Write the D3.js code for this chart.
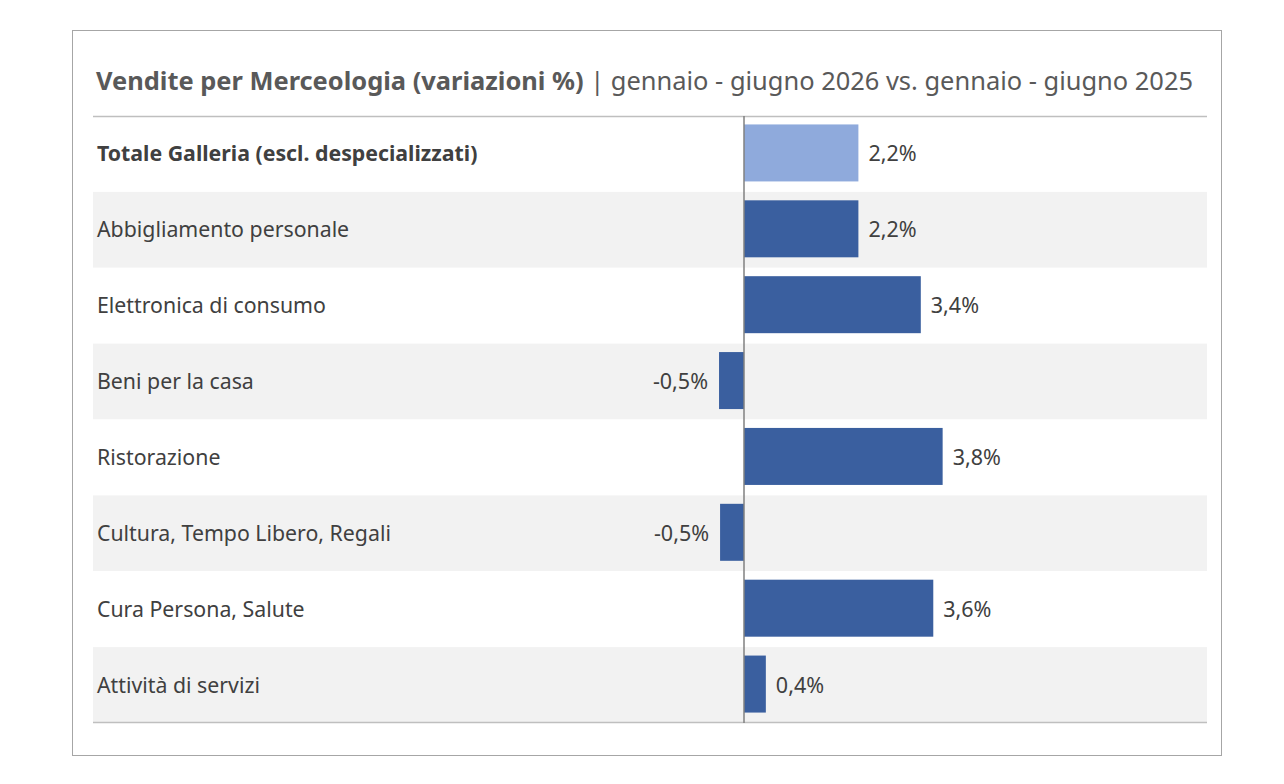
<!DOCTYPE html>
<html><head><meta charset="utf-8">
<script src="https://cdn.jsdelivr.net/npm/d3@7"></script>
<style>body{margin:0;background:#fff;}svg{display:block;font-family:"Noto Sans","Open Sans",sans-serif;}</style>
</head><body>
<svg id="c" width="1284" height="784"></svg>
<script>
const categories = ["Totale Galleria (escl. despecializzati)","Abbigliamento personale","Elettronica di consumo","Beni per la casa","Ristorazione","Cultura, Tempo Libero, Regali","Cura Persona, Salute","Attività di servizi"];
const values = [2.2, 2.2, 3.4, -0.48, 3.82, -0.46, 3.64, 0.42];
const titleBold = "Vendite per Merceologia (variazioni %)";
const titleRest = " | gennaio - giugno 2026 vs. gennaio - giugno 2025";

const svg = d3.select("#c");
svg.append("rect").attr("x",72.5).attr("y",30.5).attr("width",1149).attr("height",725)
  .attr("fill","#fff").attr("stroke","#a6a6a6").attr("stroke-width",1);

const t = svg.append("text").attr("x",96).attr("y",90).attr("fill","#595959").attr("font-size",25)
  .attr("textLength",1097).attr("lengthAdjust","spacingAndGlyphs");
t.append("tspan").attr("font-weight","bold").text(titleBold);
t.append("tspan").text(titleRest);

const y = d3.scaleBand().domain(categories).range([116,723]).paddingInner(0).paddingOuter(0);
const x = d3.scaleLinear().domain([0,1]).range([744,796]);

svg.selectAll("rect.row").data(categories).join("rect").attr("class","row")
  .attr("x",93).attr("width",1114).attr("y",d=>y(d)).attr("height",y.bandwidth())
  .attr("fill",(d,i)=>i%2===1?"#f2f2f2":"#ffffff");

svg.append("line").attr("x1",93).attr("x2",1207).attr("y1",116.5).attr("y2",116.5).attr("stroke","#bfbfbf").attr("stroke-width",1.5);
svg.append("line").attr("x1",93).attr("x2",1207).attr("y1",722.5).attr("y2",722.5).attr("stroke","#bfbfbf").attr("stroke-width",1.5);

const bh = 57;
svg.selectAll("rect.bar").data(values).join("rect").attr("class","bar")
  .attr("x",d=>x(Math.min(0,d))).attr("width",d=>Math.abs(x(d)-x(0)))
  .attr("y",(d,i)=>y(categories[i])+y.bandwidth()/2-bh/2-1).attr("height",bh)
  .attr("fill",(d,i)=>i===0?"#8faadc":"#3a5f9f");

svg.selectAll("text.cat").data(categories).join("text").attr("class","cat")
  .attr("x",97).attr("y",d=>y(d)+y.bandwidth()/2).attr("dy","0.35em")
  .attr("font-size",21.3).attr("fill","#404040").attr("font-weight",(d,i)=>i===0?"bold":"normal").text(d=>d);

const fmt = v => d3.format(".1f")(v).replace("\u2212","-").replace(".",",")+"%";
svg.selectAll("text.val").data(values).join("text").attr("class","val")
  .attr("x",d=>d>=0?x(d)+10:x(d)-11).attr("text-anchor",d=>d>=0?"start":"end")
  .attr("y",(d,i)=>y(categories[i])+y.bandwidth()/2).attr("dy","0.35em")
  .attr("font-size",21.5).attr("fill","#404040").text(d=>fmt(d));

svg.append("line").attr("x1",x(0)).attr("x2",x(0)).attr("y1",116).attr("y2",723).attr("stroke","#808080").attr("stroke-width",1.5);
</script>
</body></html>
